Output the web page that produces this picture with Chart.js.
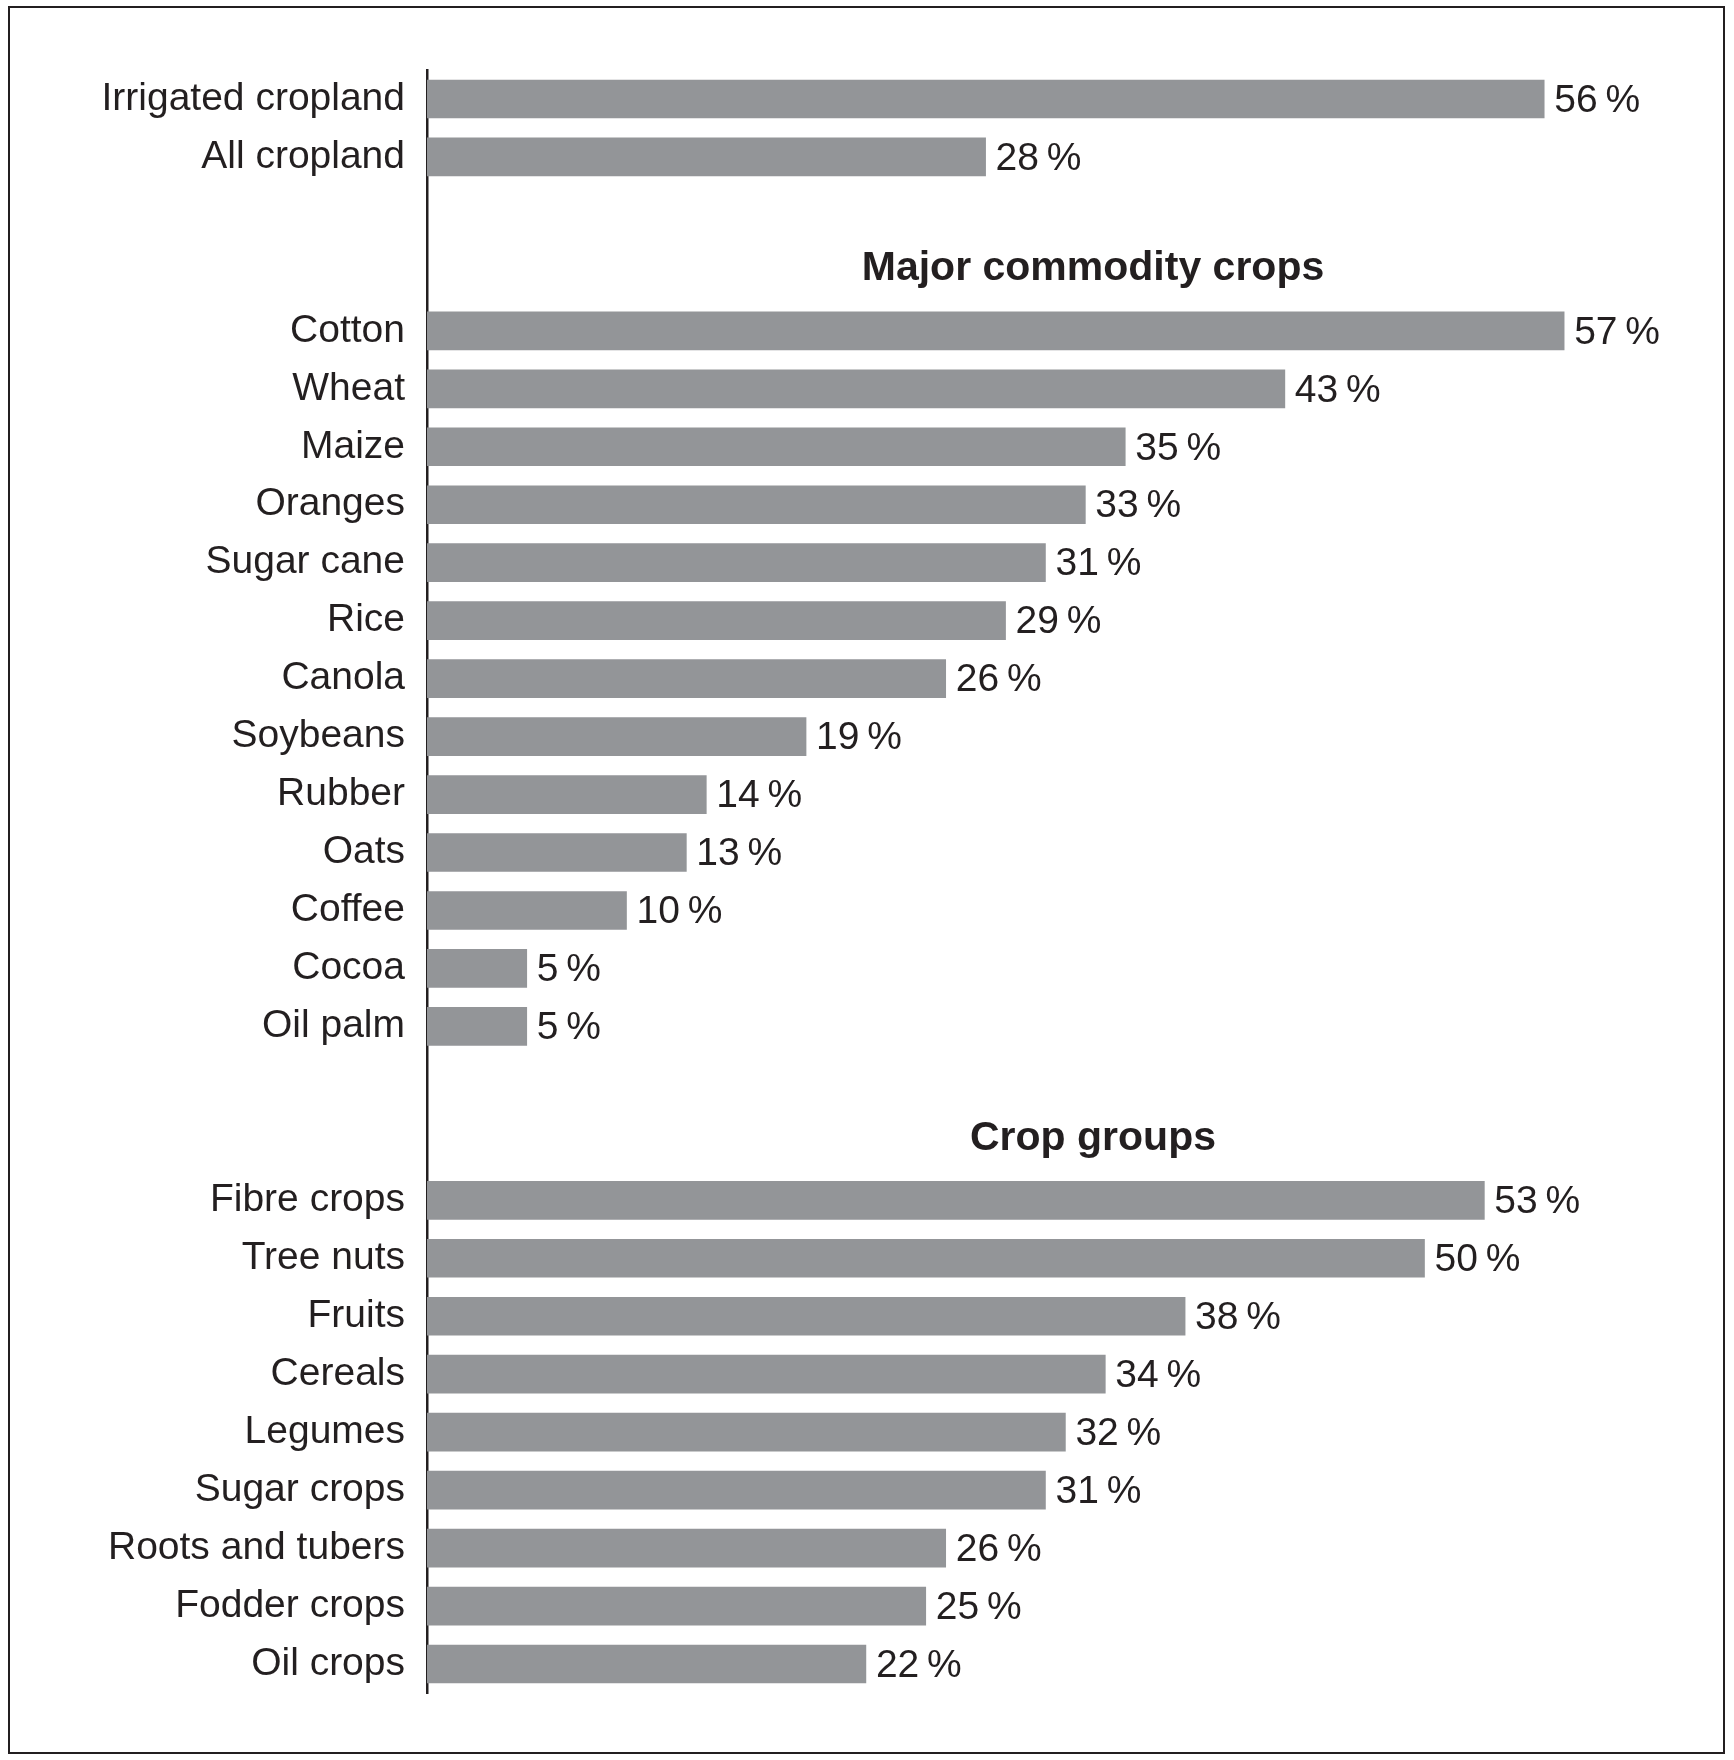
<!DOCTYPE html>
<html><head><meta charset="utf-8">
<script src="https://cdn.jsdelivr.net/npm/chart.js@4"></script>
<style>html,body{margin:0;padding:0;background:#fff}#w{width:1734px;height:1760px}</style>
</head><body><div id="w"><canvas id="c"></canvas></div>
<script>
const categories = ["Irrigated cropland","All cropland","","",
 "Cotton","Wheat","Maize","Oranges","Sugar cane","Rice","Canola","Soybeans","Rubber","Oats","Coffee","Cocoa","Oil palm","","",
 "Fibre crops","Tree nuts","Fruits","Cereals","Legumes","Sugar crops","Roots and tubers","Fodder crops","Oil crops"];
const values = [56,28,null,null,57,43,35,33,31,29,26,19,14,13,10,5,5,null,null,53,50,38,34,32,31,26,25,22];
const headers = [{index:3,text:"Major commodity crops"},{index:18,text:"Crop groups"}];
const TXT="#231f20";
const extras={id:"extras",
 afterDatasetsDraw(ch){
  const ctx=ch.ctx, x=ch.scales.x, y=ch.scales.y;
  ctx.save();
  ctx.fillStyle=TXT; ctx.textBaseline="middle";
  ctx.font="39px 'Liberation Sans', Arial, sans-serif"; ctx.textAlign="left";
  values.forEach((v,i)=>{ if(v==null)return;
    ctx.fillText(v+"\u2009%", x.getPixelForValue(v)+10, y.getPixelForValue(i)+2);});
  ctx.font="bold 41px 'Liberation Sans', Arial, sans-serif"; ctx.textAlign="center";
  headers.forEach(h=>ctx.fillText(h.text,1093,y.getPixelForValue(h.index)-4));
  ctx.strokeStyle="#231f20"; ctx.lineWidth=2;
  ctx.strokeRect(9,7,1715,1746);
  ctx.restore();
 }};
new Chart(document.getElementById("c"),{
 type:"bar",
 data:{labels:categories,datasets:[{data:values,backgroundColor:"#939598",barThickness:38}]},
 options:{indexAxis:"y",responsive:true,maintainAspectRatio:false,animation:false,
  layout:{padding:{left:0,right:110,top:70,bottom:67}},
  plugins:{legend:{display:false},tooltip:{enabled:false}},
  scales:{
   x:{display:false,min:0,max:60},
   y:{grid:{display:false,drawTicks:false},border:{display:true,color:"#231f20",width:2.5},
      ticks:{color:TXT,padding:22,font:{size:39,family:"'Liberation Sans', Arial, sans-serif"},autoSkip:false},
      afterFit(s){s.width=427;}}
  }},
 plugins:[extras]});
</script></body></html>
